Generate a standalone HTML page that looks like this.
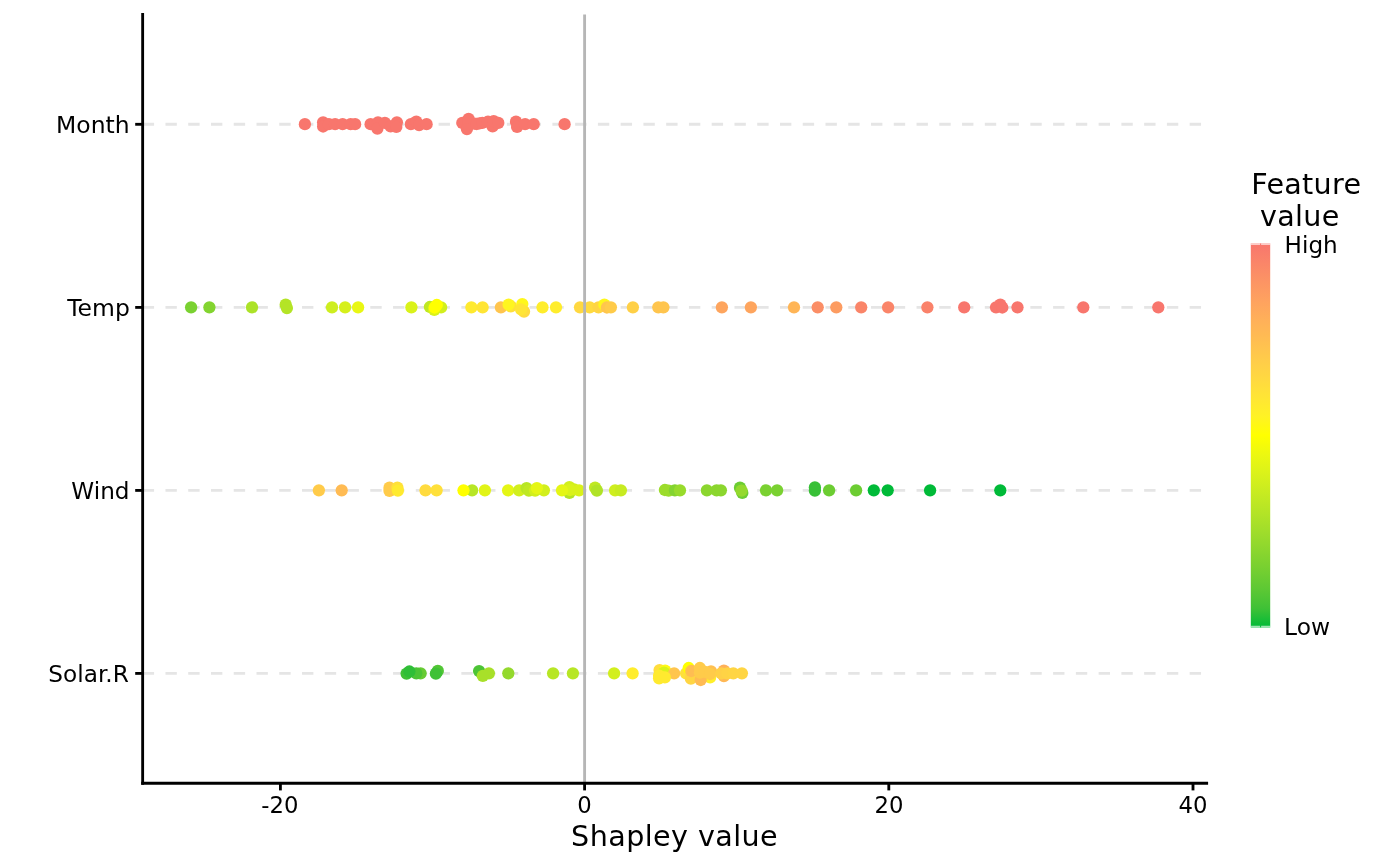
<!DOCTYPE html>
<html lang="en"><head><meta charset="utf-8"><title>Shapley value plot</title>
<style>html,body{margin:0;padding:0;background:#fff}body{width:1400px;height:866px;overflow:hidden}svg{display:block}text{font-family:"DejaVu Sans","Liberation Sans",sans-serif;fill:#000}</style></head><body>
<svg width="1400" height="866" viewBox="0 0 1400 866">
<rect width="1400" height="866" fill="#fff"/>
<defs><linearGradient id="cb" x1="0" y1="1" x2="0" y2="0">
<stop offset="0" stop-color="#00BA38"/>
<stop offset="0.05" stop-color="#3FC136"/>
<stop offset="0.1" stop-color="#5DC834"/>
<stop offset="0.15" stop-color="#75CF31"/>
<stop offset="0.2" stop-color="#8BD62E"/>
<stop offset="0.25" stop-color="#A0DD2B"/>
<stop offset="0.3" stop-color="#B4E426"/>
<stop offset="0.35" stop-color="#C7EB21"/>
<stop offset="0.4" stop-color="#DAF21A"/>
<stop offset="0.45" stop-color="#ECF811"/>
<stop offset="0.5" stop-color="#FFFF00"/>
<stop offset="0.55" stop-color="#FFF225"/>
<stop offset="0.6" stop-color="#FFE535"/>
<stop offset="0.65" stop-color="#FFD841"/>
<stop offset="0.7" stop-color="#FFCB4A"/>
<stop offset="0.75" stop-color="#FFBD52"/>
<stop offset="0.8" stop-color="#FFB059"/>
<stop offset="0.85" stop-color="#FEA25F"/>
<stop offset="0.9" stop-color="#FC9464"/>
<stop offset="0.95" stop-color="#FA8569"/>
<stop offset="1" stop-color="#F8766D"/>
</linearGradient></defs>
<line x1="142.7" x2="1207" y1="124.2" y2="124.2" stroke="#E5E5E5" stroke-width="2.85" stroke-dasharray="11.38 11.38"/>
<line x1="142.7" x2="1207" y1="307.3" y2="307.3" stroke="#E5E5E5" stroke-width="2.85" stroke-dasharray="11.38 11.38"/>
<line x1="142.7" x2="1207" y1="490.3" y2="490.3" stroke="#E5E5E5" stroke-width="2.85" stroke-dasharray="11.38 11.38"/>
<line x1="142.7" x2="1207" y1="673.3" y2="673.3" stroke="#E5E5E5" stroke-width="2.85" stroke-dasharray="11.38 11.38"/>
<g id="month">
<circle cx="304.9" cy="124.2" r="6.15" fill="#F8766D"/>
<circle cx="323.1" cy="122.3" r="6.15" fill="#F8766D"/>
<circle cx="323.1" cy="126.5" r="6.15" fill="#F8766D"/>
<circle cx="328.9" cy="124.2" r="6.15" fill="#F8766D"/>
<circle cx="335.1" cy="124.2" r="6.15" fill="#F8766D"/>
<circle cx="342.6" cy="124.2" r="6.15" fill="#F8766D"/>
<circle cx="350.6" cy="124.2" r="6.15" fill="#F8766D"/>
<circle cx="355.1" cy="124.2" r="6.15" fill="#F8766D"/>
<circle cx="370.6" cy="124.2" r="6.15" fill="#F8766D"/>
<circle cx="378" cy="122.3" r="6.15" fill="#F8766D"/>
<circle cx="377.4" cy="128.6" r="6.15" fill="#F8766D"/>
<circle cx="384.9" cy="122.9" r="6.15" fill="#F8766D"/>
<circle cx="390.6" cy="126.3" r="6.15" fill="#F8766D"/>
<circle cx="396.9" cy="122.3" r="6.15" fill="#F8766D"/>
<circle cx="396.3" cy="126.9" r="6.15" fill="#F8766D"/>
<circle cx="410.9" cy="124.2" r="6.15" fill="#F8766D"/>
<circle cx="416.3" cy="121.7" r="6.15" fill="#F8766D"/>
<circle cx="419.1" cy="125.1" r="6.15" fill="#F8766D"/>
<circle cx="426.6" cy="124.2" r="6.15" fill="#F8766D"/>
<circle cx="462.3" cy="122.9" r="6.15" fill="#F8766D"/>
<circle cx="468.6" cy="124" r="6.15" fill="#F8766D"/>
<circle cx="474.3" cy="123.7" r="6.15" fill="#F8766D"/>
<circle cx="479.4" cy="123.4" r="6.15" fill="#F8766D"/>
<circle cx="468.6" cy="118.9" r="6.15" fill="#F8766D"/>
<circle cx="466.9" cy="129.1" r="6.15" fill="#F8766D"/>
<circle cx="476.6" cy="124" r="6.15" fill="#F8766D"/>
<circle cx="482.3" cy="122.9" r="6.15" fill="#F8766D"/>
<circle cx="488" cy="121.7" r="6.15" fill="#F8766D"/>
<circle cx="492.6" cy="126.3" r="6.15" fill="#F8766D"/>
<circle cx="493.7" cy="121.1" r="6.15" fill="#F8766D"/>
<circle cx="498.3" cy="122.9" r="6.15" fill="#F8766D"/>
<circle cx="516" cy="121.7" r="6.15" fill="#F8766D"/>
<circle cx="517.1" cy="126.9" r="6.15" fill="#F8766D"/>
<circle cx="525.1" cy="124.2" r="6.15" fill="#F8766D"/>
<circle cx="533.7" cy="124.2" r="6.15" fill="#F8766D"/>
<circle cx="564.6" cy="124.2" r="6.15" fill="#F8766D"/>
</g>
<g id="temp">
<circle cx="191.1" cy="307.3" r="6.15" fill="#7AD131"/>
<circle cx="209.4" cy="307.3" r="6.15" fill="#83D430"/>
<circle cx="252" cy="307.3" r="6.15" fill="#ACE228"/>
<circle cx="285.7" cy="304.7" r="6.15" fill="#B4E426"/>
<circle cx="286.9" cy="308.1" r="6.15" fill="#B4E426"/>
<circle cx="332" cy="307.3" r="6.15" fill="#CEEE1F"/>
<circle cx="345.1" cy="307.3" r="6.15" fill="#D6F01C"/>
<circle cx="358.1" cy="307.3" r="6.15" fill="#E9F713"/>
<circle cx="411.4" cy="307.3" r="6.15" fill="#DAF21A"/>
<circle cx="429.9" cy="307" r="6.15" fill="#BFE823"/>
<circle cx="441.1" cy="307.3" r="6.15" fill="#D2EF1D"/>
<circle cx="434.3" cy="309.8" r="6.15" fill="#DAF21A"/>
<circle cx="436.8" cy="305" r="6.15" fill="#FFFF00"/>
<circle cx="434.6" cy="307.5" r="6.15" fill="#FFFF00"/>
<circle cx="471.4" cy="307.3" r="6.15" fill="#FFEA2F"/>
<circle cx="482.6" cy="307.3" r="6.15" fill="#FFE535"/>
<circle cx="500.9" cy="307.3" r="6.15" fill="#FFC54E"/>
<circle cx="510.9" cy="306.4" r="6.15" fill="#FFE03A"/>
<circle cx="508.6" cy="304.7" r="6.15" fill="#FFF520"/>
<circle cx="522.3" cy="304.1" r="6.15" fill="#FFF71B"/>
<circle cx="524" cy="311.6" r="6.15" fill="#FFDB3F"/>
<circle cx="521.1" cy="309.3" r="6.15" fill="#FFE535"/>
<circle cx="542.5" cy="307.3" r="6.15" fill="#FFED2C"/>
<circle cx="556" cy="307.3" r="6.15" fill="#FFED2C"/>
<circle cx="580" cy="307.3" r="6.15" fill="#FFD841"/>
<circle cx="589.7" cy="307.3" r="6.15" fill="#FFDB3F"/>
<circle cx="598.5" cy="307.3" r="6.15" fill="#FFD543"/>
<circle cx="604.4" cy="304.7" r="6.15" fill="#FFF71B"/>
<circle cx="606.9" cy="307.5" r="6.15" fill="#FFC54E"/>
<circle cx="610.9" cy="307.3" r="6.15" fill="#FFCB4A"/>
<circle cx="632.9" cy="307.3" r="6.15" fill="#FFD047"/>
<circle cx="658.3" cy="307.3" r="6.15" fill="#FFC54E"/>
<circle cx="663.4" cy="307.3" r="6.15" fill="#FFC54E"/>
<circle cx="721.9" cy="307.3" r="6.15" fill="#FEA55E"/>
<circle cx="750.9" cy="307.3" r="6.15" fill="#FEA55E"/>
<circle cx="794" cy="307.3" r="6.15" fill="#FFB556"/>
<circle cx="817.7" cy="307.3" r="6.15" fill="#FB8E66"/>
<circle cx="836.3" cy="307.3" r="6.15" fill="#FD9C61"/>
<circle cx="861.2" cy="307.3" r="6.15" fill="#FA8569"/>
<circle cx="888.1" cy="307.3" r="6.15" fill="#FA8569"/>
<circle cx="927.4" cy="307.3" r="6.15" fill="#FA826A"/>
<circle cx="964.2" cy="307.3" r="6.15" fill="#F8766D"/>
<circle cx="996" cy="307.3" r="6.15" fill="#F8766D"/>
<circle cx="1000.3" cy="304.7" r="6.15" fill="#F8766D"/>
<circle cx="1002.3" cy="307.5" r="6.15" fill="#F8766D"/>
<circle cx="1017.5" cy="307.3" r="6.15" fill="#F8766D"/>
<circle cx="1083.3" cy="307.3" r="6.15" fill="#F8766D"/>
<circle cx="1158.3" cy="307.3" r="6.15" fill="#F8766D"/>
</g>
<g id="wind">
<circle cx="318.9" cy="490.3" r="6.15" fill="#FFCB4A"/>
<circle cx="341.7" cy="490.3" r="6.15" fill="#FFBB53"/>
<circle cx="389.5" cy="487.7" r="6.15" fill="#FFCB4A"/>
<circle cx="389.5" cy="490.8" r="6.15" fill="#FFCB4A"/>
<circle cx="397.4" cy="487.7" r="6.15" fill="#FFE03A"/>
<circle cx="397.9" cy="490.6" r="6.15" fill="#FFEA2F"/>
<circle cx="425.5" cy="490.3" r="6.15" fill="#FFDB3F"/>
<circle cx="436.6" cy="490.3" r="6.15" fill="#FFE03A"/>
<circle cx="472.1" cy="490.3" r="6.15" fill="#B7E625"/>
<circle cx="463.5" cy="490.3" r="6.15" fill="#FFFF00"/>
<circle cx="484.9" cy="490.3" r="6.15" fill="#E1F417"/>
<circle cx="508.1" cy="490.3" r="6.15" fill="#E5F615"/>
<circle cx="519.1" cy="490.3" r="6.15" fill="#D2EF1D"/>
<circle cx="526.6" cy="488.1" r="6.15" fill="#B7E625"/>
<circle cx="528.9" cy="490.6" r="6.15" fill="#BFE823"/>
<circle cx="535.1" cy="490.6" r="6.15" fill="#D2EF1D"/>
<circle cx="543.9" cy="490.3" r="6.15" fill="#D2EF1D"/>
<circle cx="536.9" cy="488.1" r="6.15" fill="#E5F615"/>
<circle cx="569.4" cy="492.9" r="6.15" fill="#B4E426"/>
<circle cx="569.4" cy="487.1" r="6.15" fill="#D2EF1D"/>
<circle cx="574" cy="489.4" r="6.15" fill="#D2EF1D"/>
<circle cx="579.1" cy="490.3" r="6.15" fill="#DAF21A"/>
<circle cx="570" cy="490" r="6.15" fill="#DAF21A"/>
<circle cx="562" cy="490.3" r="6.15" fill="#E5F615"/>
<circle cx="595.1" cy="487.7" r="6.15" fill="#BFE823"/>
<circle cx="596.9" cy="490.6" r="6.15" fill="#B0E327"/>
<circle cx="615.1" cy="490.3" r="6.15" fill="#CEEE1F"/>
<circle cx="620.9" cy="490.3" r="6.15" fill="#C7EB21"/>
<circle cx="664.9" cy="490" r="6.15" fill="#9CDC2B"/>
<circle cx="668.6" cy="490.6" r="6.15" fill="#9CDC2B"/>
<circle cx="674.9" cy="490.3" r="6.15" fill="#83D430"/>
<circle cx="680" cy="490.3" r="6.15" fill="#98DB2C"/>
<circle cx="706.9" cy="490.3" r="6.15" fill="#8BD62E"/>
<circle cx="716.6" cy="490.3" r="6.15" fill="#8BD62E"/>
<circle cx="720.9" cy="490.3" r="6.15" fill="#8BD62E"/>
<circle cx="740" cy="487.7" r="6.15" fill="#6CCD32"/>
<circle cx="742.3" cy="492.9" r="6.15" fill="#6CCD32"/>
<circle cx="741.5" cy="490.6" r="6.15" fill="#94D92D"/>
<circle cx="766" cy="490.3" r="6.15" fill="#7AD131"/>
<circle cx="777.1" cy="490.3" r="6.15" fill="#7AD131"/>
<circle cx="814.9" cy="487.4" r="6.15" fill="#38C037"/>
<circle cx="814.9" cy="490.6" r="6.15" fill="#38C037"/>
<circle cx="829.1" cy="490.3" r="6.15" fill="#6CCD32"/>
<circle cx="856.1" cy="490.3" r="6.15" fill="#6CCD32"/>
<circle cx="873.8" cy="490.3" r="6.15" fill="#00BA38"/>
<circle cx="887.7" cy="490.3" r="6.15" fill="#00BA38"/>
<circle cx="930.1" cy="490.3" r="6.15" fill="#00BA38"/>
<circle cx="1000.3" cy="490.3" r="6.15" fill="#00BA38"/>
</g>
<g id="solar">
<circle cx="420.6" cy="673.3" r="6.15" fill="#67CB33"/>
<circle cx="416.3" cy="673.3" r="6.15" fill="#4CC435"/>
<circle cx="406.6" cy="673.6" r="6.15" fill="#3FC136"/>
<circle cx="409.4" cy="671.5" r="6.15" fill="#2FBE37"/>
<circle cx="437.8" cy="670.9" r="6.15" fill="#52C635"/>
<circle cx="435.9" cy="673.6" r="6.15" fill="#3FC136"/>
<circle cx="479.1" cy="671.1" r="6.15" fill="#4CC435"/>
<circle cx="488.9" cy="673.3" r="6.15" fill="#A8E029"/>
<circle cx="482.8" cy="675.9" r="6.15" fill="#A8E029"/>
<circle cx="508.3" cy="673.3" r="6.15" fill="#94D92D"/>
<circle cx="553.1" cy="673.3" r="6.15" fill="#B7E625"/>
<circle cx="572.9" cy="673.3" r="6.15" fill="#B7E625"/>
<circle cx="614.1" cy="673.3" r="6.15" fill="#D2EF1D"/>
<circle cx="632.6" cy="673.3" r="6.15" fill="#FFED2C"/>
<circle cx="659.6" cy="670.1" r="6.15" fill="#FFDD3D"/>
<circle cx="665.1" cy="670.6" r="6.15" fill="#FFFA15"/>
<circle cx="664" cy="672.6" r="6.15" fill="#DAF21A"/>
<circle cx="674.1" cy="673.3" r="6.15" fill="#FFC54E"/>
<circle cx="659.1" cy="678.3" r="6.15" fill="#FFEA2F"/>
<circle cx="659.1" cy="675.7" r="6.15" fill="#FFEA2F"/>
<circle cx="664.9" cy="677.4" r="6.15" fill="#FFEA2F"/>
<circle cx="686.1" cy="673.3" r="6.15" fill="#FFE03A"/>
<circle cx="688.7" cy="668" r="6.15" fill="#FFFF00"/>
<circle cx="690.9" cy="678.7" r="6.15" fill="#FFD543"/>
<circle cx="691.3" cy="671" r="6.15" fill="#FFBD52"/>
<circle cx="710.1" cy="677.4" r="6.15" fill="#FFEF29"/>
<circle cx="700.7" cy="680" r="6.15" fill="#FFBB53"/>
<circle cx="711" cy="671.4" r="6.15" fill="#FFC051"/>
<circle cx="699.9" cy="668" r="6.15" fill="#FFCB4A"/>
<circle cx="699.9" cy="672.7" r="6.15" fill="#FFCB4A"/>
<circle cx="705" cy="671.9" r="6.15" fill="#FFCB4A"/>
<circle cx="710.1" cy="674" r="6.15" fill="#FFCB4A"/>
<circle cx="723.9" cy="670.6" r="6.15" fill="#FFB059"/>
<circle cx="723.9" cy="676.1" r="6.15" fill="#FFB855"/>
<circle cx="721.3" cy="673.3" r="6.15" fill="#FFD047"/>
<circle cx="727.3" cy="673.3" r="6.15" fill="#FFD345"/>
<circle cx="733.3" cy="673.3" r="6.15" fill="#FFD543"/>
<circle cx="741.9" cy="673.3" r="6.15" fill="#FFD543"/>
</g>
<line x1="584.6" x2="584.6" y1="14.5" y2="783.2" stroke="#B6B6B6" stroke-width="2.85"/>
<line x1="142.65" x2="142.65" y1="13.1" y2="784.625" stroke="#000" stroke-width="2.85"/>
<line x1="141.225" x2="1208.1" y1="783.2" y2="783.2" stroke="#000" stroke-width="2.85"/>
<line x1="135.2" x2="142.65" y1="124.3" y2="124.3" stroke="#000" stroke-width="2.85"/>
<line x1="135.2" x2="142.65" y1="307.4" y2="307.4" stroke="#000" stroke-width="2.85"/>
<line x1="135.2" x2="142.65" y1="490.4" y2="490.4" stroke="#000" stroke-width="2.85"/>
<line x1="135.2" x2="142.65" y1="673.4" y2="673.4" stroke="#000" stroke-width="2.85"/>
<line x1="280.4" x2="280.4" y1="783.2" y2="790.4" stroke="#000" stroke-width="2.85"/>
<line x1="584.6" x2="584.6" y1="783.2" y2="790.4" stroke="#000" stroke-width="2.85"/>
<line x1="888.8" x2="888.8" y1="783.2" y2="790.4" stroke="#000" stroke-width="2.85"/>
<line x1="1193" x2="1193" y1="783.2" y2="790.4" stroke="#000" stroke-width="2.85"/>
<text x="129.6" y="132.6" font-size="23.47" text-anchor="end">Month</text>
<text x="129.8" y="315.7" font-size="23.47" text-anchor="end">Temp</text>
<text x="129.5" y="498.7" font-size="23.15" text-anchor="end">Wind</text>
<text x="128.8" y="681.7" font-size="23.2" text-anchor="end">Solar.R</text>
<text transform="translate(279.85 813.2) scale(0.97 1)" font-size="23.47" text-anchor="middle">-20</text>
<text transform="translate(584.4 813.2) scale(0.97 1)" font-size="23.47" text-anchor="middle">0</text>
<text transform="translate(889.1 813.2) scale(0.97 1)" font-size="23.47" text-anchor="middle">20</text>
<text transform="translate(1193 813.2) scale(0.97 1)" font-size="23.47" text-anchor="middle">40</text>
<text transform="translate(571.1 845.8) scale(1 0.98)" font-size="28.6" letter-spacing="0.42">Shapley value</text>
<text transform="translate(1251.2 193.8) scale(1 0.98)" font-size="28.6" letter-spacing="0.3">Feature</text>
<text transform="translate(1260 225.7) scale(1 0.98)" font-size="28.6" letter-spacing="0.3">value</text>
<rect x="1250.8" y="243.3" width="19.4" height="384.3" fill="url(#cb)"/>
<path d="M1250.8 243.3 h9.3 v1.8 h-9.3z M1261.1 243.3 h9.1 v1.8 h-9.1z" fill="#fff" fill-opacity="0.62"/>
<path d="M1250.8 625.8 h9.3 v1.8 h-9.3z M1261.1 625.8 h9.1 v1.8 h-9.1z" fill="#fff" fill-opacity="0.62"/>
<text x="1284.6" y="252.6" font-size="23.1">High</text>
<text x="1284.1" y="634.8" font-size="23.35">Low</text>
</svg></body></html>
